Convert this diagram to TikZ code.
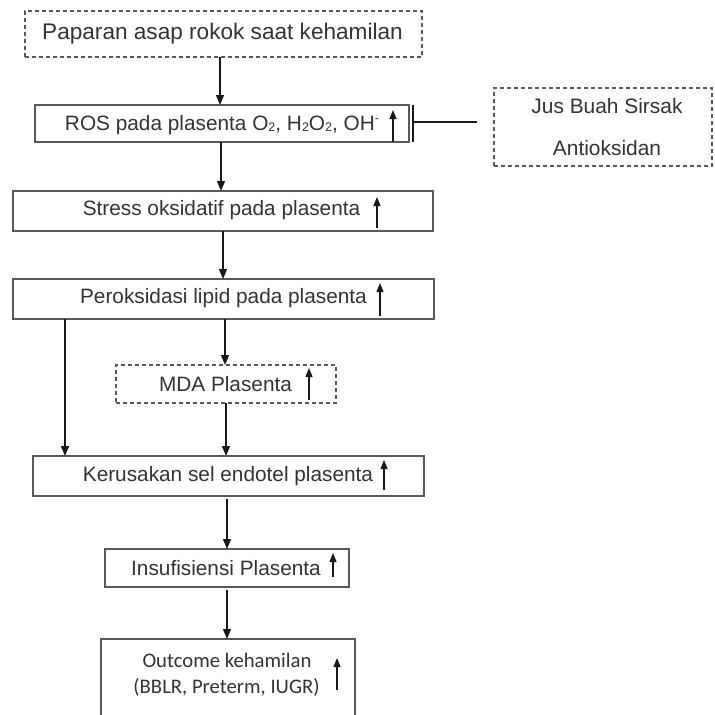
\documentclass[tikz,border=0pt]{standalone}
\usepackage{fontspec}
\setmainfont{Liberation Sans}
\newfontfamily\carlitofont{Carlito}
\usetikzlibrary{arrows.meta,calc}
\newcommand{\mysub}[1]{\raisebox{-1.5pt}{\fontsize{12.5}{12.5}\selectfont #1}}
\newcommand{\mysup}[1]{\raisebox{7.5pt}{\fontsize{12.5}{12.5}\selectfont #1}}
\begin{document}
\begin{tikzpicture}[x=1pt,y=-1pt,
 box/.style={draw=black!65, line width=1.4pt, anchor=north west, inner sep=0pt, outer sep=0pt},
 dashbox/.style={box, dash pattern=on 4pt off 3pt},
 lbl/.style={anchor=base, inner sep=0pt, outer sep=0pt, text=black!80, font=\fontsize{20.8}{25}\selectfont},
 flow/.style={draw=black!90, line width=1.3pt, -{Triangle[length=10pt,width=8pt]}},
 upar/.style={draw=black!90, line width=1.3pt, -{Triangle[length=9pt,width=7pt]}},
]
\useasboundingbox (0,0) rectangle (715,715);

% boxes
\node[dashbox, minimum width=397pt, minimum height=46pt] (b1) at (25,11) {};
\node[box, minimum width=374pt, minimum height=37pt] (b2) at (35,105) {};
\node[box, minimum width=420pt, minimum height=40pt] (b3) at (13,191) {};
\node[box, minimum width=421pt, minimum height=40pt] (b4) at (13,279) {};
\node[dashbox, minimum width=220pt, minimum height=38pt] (b5) at (116,365) {};
\node[box, minimum width=391pt, minimum height=40pt] (b6) at (33,456) {};
\node[box, minimum width=244pt, minimum height=38pt] (b7) at (105,549) {};
\node[box, minimum width=254pt, minimum height=95pt] (b8) at (101,639) {};
\node[dashbox, minimum width=218pt, minimum height=78pt] (b9) at (494,88) {};

% labels
\node[lbl, font=\fontsize{22.6}{27}\selectfont] (t1) at (222.5,39) {Paparan asap rokok saat kehamilan};
\node[lbl] (t2) at (222,130) {ROS pada plasenta O\mysub{2}, H\mysub{2}O\mysub{2}, OH\mysup{-}};
\node[lbl] (t3) at (221.5,215) {Stress oksidatif pada plasenta};
\node[lbl] (t4) at (223.5,303) {Peroksidasi lipid pada plasenta};
\node[lbl] (t5) at (225.5,391) {MDA Plasenta};
\node[lbl] (t6) at (228,481) {Kerusakan sel endotel plasenta};
\node[lbl] (t7) at (226,575) {Insufisiensi Plasenta};
\node[lbl, font=\carlitofont\fontsize{20.7}{25}\selectfont] (t8a) at (227,667) {Outcome kehamilan};
\node[lbl, font=\carlitofont\fontsize{20.7}{25}\selectfont] (t8b) at (226.5,693) {(BBLR, Preterm, IUGR)};
\node[lbl, font=\fontsize{20.9}{25}\selectfont] (t9a) at (607,113) {Jus Buah Sirsak};
\node[lbl, font=\fontsize{20.9}{25}\selectfont] (t9b) at (607,155) {Antioksidan};

% increase marks
\draw[upar] (393,142) -- (393,110);
\draw[upar] (377,228) -- (377,197);
\draw[upar] (380,316) -- (380,283);
\draw[upar] (309,400) -- (309,368);
\draw[upar] (384,490) -- (384,460);
\draw[upar] (333,577) -- (333,553);
\draw[upar] (337,690) -- (337,658);

% column coordinates
\coordinate (xa) at (220,0);
\coordinate (xb) at (221,0);
\coordinate (xc) at (223,0);
\coordinate (xd) at (225,0);
\coordinate (xe) at (226,0);
\coordinate (xf) at (227,0);
\coordinate (xl) at (65,0);

% connectors
\draw[flow] (b1.south -| xa) -- (b2.north -| xa);
\draw[flow] (b2.south -| xb) -- (b3.north -| xb);
\draw[flow] (b3.south -| xc) -- (b4.north -| xc);
\draw[flow] (b4.south -| xd) -- (b5.north -| xd);
\draw[flow] (b5.south -| xe) -- (b6.north -| xe);
\draw[flow] (b4.south -| xl) -- (b6.north -| xl);
\draw[flow] ($(b6.south -| xf)+(0,3)$) -- (b7.north -| xf);
\draw[flow] ($(b7.south -| xf)+(0,3)$) -- (b8.north -| xf);

% inhibition
\coordinate (bart) at (413,105);
\coordinate (barb) at (413,142);
\coordinate (barc) at (413,122);
\draw[draw=black!90, line width=2.4pt] (bart) -- (barb);
\draw[draw=black!90, line width=1.5pt] ($(b9.west |- barc)+(-17,0)$) -- (barc);
\end{tikzpicture}
\end{document}
